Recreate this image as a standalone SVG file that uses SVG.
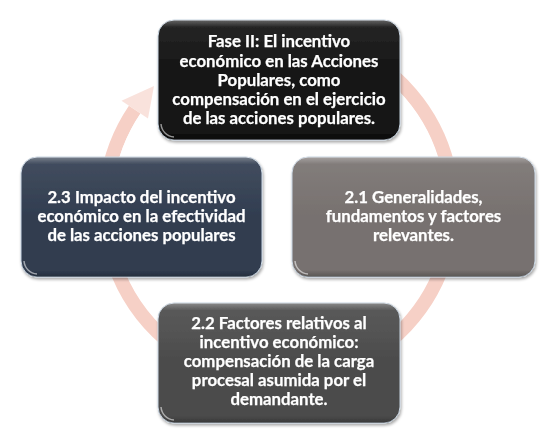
<svg xmlns="http://www.w3.org/2000/svg" width="556" height="445" viewBox="0 0 556 445">
  <defs>
    <linearGradient id="gloss" x1="0" y1="0" x2="0" y2="1">
      <stop offset="0" stop-color="#ffffff" stop-opacity="0.35"/>
      <stop offset="0.06" stop-color="#ffffff" stop-opacity="0.08"/>
      <stop offset="0.5" stop-color="#ffffff" stop-opacity="0"/>
      <stop offset="0.94" stop-color="#000000" stop-opacity="0"/>
      <stop offset="1" stop-color="#000000" stop-opacity="0.25"/>
    </linearGradient>
    <filter id="shadow" x="-10%" y="-10%" width="120%" height="125%">
      <feGaussianBlur in="SourceAlpha" stdDeviation="1.5"/>
      <feOffset dx="1" dy="2" result="b"/>
      <feComponentTransfer><feFuncA type="linear" slope="0.35"/></feComponentTransfer>
      <feMerge><feMergeNode/><feMergeNode in="SourceGraphic"/></feMerge>
    </filter>
  </defs>
  <style>
    .box { stroke: #c9d6e3; stroke-width: 1; }
    .gl { fill: url(#gloss); }
    .hl { fill: none; stroke: #ffffff; stroke-opacity: 0.55; stroke-width: 1.5; }
    .t { font-family: Lato, "Open Sans", "Liberation Sans", sans-serif; font-weight: bold; font-size: 16.8px; fill: #ffffff; stroke: #ffffff; stroke-width: 0.25; text-anchor: middle; }
    .ring { fill: none; stroke: #f6d0c6; stroke-width: 14; }
    .ringhl { fill: none; stroke: #ffffff; stroke-width: 1.2; stroke-opacity: 0.9; }
  </style>

  <g id="connectors">
    <path class="ring" d="M 171.9 69.9 A 174 174 0 1 1 134.7 109.7"/>
    <path class="ringhl" d="M 176.4 75.8 A 166 166 0 1 1 141.4 113.2"/>
    <polygon points="121.5,100.8 148.0,118.6 154.0,86.1" fill="#f8dbd3" fill-opacity="0.8"/>
  </g>

  <g id="node-top" filter="url(#shadow)">
    <rect class="box" x="158" y="20" width="242" height="120" rx="16" fill="#121212"/>
    <rect class="gl" x="158" y="20" width="242" height="120" rx="16"/>
    <path class="hl" d="M 161 124 A 14 14 0 0 0 174 137"/>
    <text class="t" x="279" y="47">Fase II: El incentivo</text>
    <text class="t" x="279" y="66.5">económico en las Acciones</text>
    <text class="t" x="279" y="86">Populares, como</text>
    <text class="t" x="279" y="105">compensación en el ejercicio</text>
    <text class="t" x="279" y="124">de las acciones populares.</text>
  </g>

  <g id="node-left" filter="url(#shadow)">
    <rect class="box" x="21" y="157" width="241" height="120" rx="16" fill="#313d50"/>
    <rect class="gl" x="21" y="157" width="241" height="120" rx="16"/>
    <path class="hl" d="M 24 261 A 14 14 0 0 0 37 274"/>
    <text class="t" x="141.5" y="203">2.3 Impacto del incentivo</text>
    <text class="t" x="141.5" y="222">económico en la efectividad</text>
    <text class="t" x="141.5" y="241">de las acciones populares</text>
  </g>

  <g id="node-right" filter="url(#shadow)">
    <rect class="box" x="292" y="157" width="243" height="120" rx="16" fill="#77716f"/>
    <rect class="gl" x="292" y="157" width="243" height="120" rx="16"/>
    <path class="hl" d="M 295 261 A 14 14 0 0 0 308 274"/>
    <text class="t" x="413.5" y="203">2.1 Generalidades,</text>
    <text class="t" x="413.5" y="222">fundamentos y factores</text>
    <text class="t" x="413.5" y="241">relevantes.</text>
  </g>

  <g id="node-bottom" filter="url(#shadow)">
    <rect class="box" x="158" y="303" width="242" height="120" rx="16" fill="#4b4b4b"/>
    <rect class="gl" x="158" y="303" width="242" height="120" rx="16"/>
    <path class="hl" d="M 161 407 A 14 14 0 0 0 174 420"/>
    <text class="t" x="279" y="329">2.2 Factores relativos al</text>
    <text class="t" x="279" y="348">incentivo económico:</text>
    <text class="t" x="279" y="367">compensación de la carga</text>
    <text class="t" x="279" y="386">procesal asumida por el</text>
    <text class="t" x="279" y="405">demandante.</text>
  </g>
</svg>
